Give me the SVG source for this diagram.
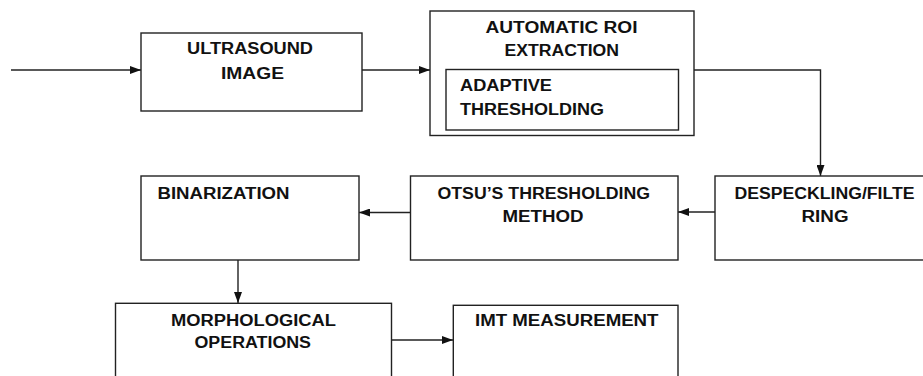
<svg xmlns="http://www.w3.org/2000/svg" width="923" height="376" viewBox="0 0 923 376">
<style>
.box{fill:#fff;stroke:#222;stroke-width:1.4}
.t{font-family:"Liberation Sans",Arial,sans-serif;font-weight:bold;font-size:16px;fill:#111}
.c{fill:none;stroke:#222;stroke-width:1.4}
</style>
<defs>
<marker id="ah" markerUnits="userSpaceOnUse" markerWidth="11" markerHeight="8" refX="11" refY="4" orient="auto">
<path d="M0,0 L11,4 L0,8 z" fill="#111"/>
</marker>
</defs>
<rect width="923" height="376" fill="#fff"/>
<g id="connectors">
<line class="c" x1="11" y1="70" x2="141" y2="70" marker-end="url(#ah)"/>
<line class="c" x1="362" y1="70" x2="430" y2="70" marker-end="url(#ah)"/>
<polyline class="c" points="694,70 820.5,70 820.5,176" marker-end="url(#ah)"/>
<line class="c" x1="715" y1="212" x2="678" y2="212" marker-end="url(#ah)"/>
<line class="c" x1="410.5" y1="212.5" x2="359" y2="212.5" marker-end="url(#ah)"/>
<line class="c" x1="238" y1="260" x2="238" y2="303" marker-end="url(#ah)"/>
<line class="c" x1="391.5" y1="340" x2="453" y2="340" marker-end="url(#ah)"/>
</g>
<g id="ultrasound">
<rect class="box" x="141" y="33" width="221" height="78"/>
<text class="t" x="187" y="54" textLength="126" lengthAdjust="spacingAndGlyphs">ULTRASOUND</text>
<text class="t" x="221" y="78.5" textLength="63" lengthAdjust="spacingAndGlyphs">IMAGE</text>
</g>
<g id="roi">
<rect class="box" x="430" y="11" width="264" height="124.5"/>
<text class="t" x="485.5" y="32.5" textLength="152" lengthAdjust="spacingAndGlyphs">AUTOMATIC ROI</text>
<text class="t" x="504.5" y="55.5" textLength="114.5" lengthAdjust="spacingAndGlyphs">EXTRACTION</text>
</g>
<g id="adaptive">
<rect class="box" x="446" y="69.5" width="232.5" height="60.5"/>
<text class="t" x="460" y="91" textLength="92" lengthAdjust="spacingAndGlyphs">ADAPTIVE</text>
<text class="t" x="460" y="115" textLength="144" lengthAdjust="spacingAndGlyphs">THRESHOLDING</text>
</g>
<g id="despeckling">
<rect class="box" x="715" y="176" width="212" height="84"/>
<text class="t" x="734.5" y="199" textLength="180" lengthAdjust="spacingAndGlyphs">DESPECKLING/FILTE</text>
<text class="t" x="801.5" y="222" textLength="47" lengthAdjust="spacingAndGlyphs">RING</text>
</g>
<g id="otsu">
<rect class="box" x="410.5" y="176" width="267.5" height="84"/>
<text class="t" x="437.5" y="199" textLength="212.5" lengthAdjust="spacingAndGlyphs">OTSU’S THRESHOLDING</text>
<text class="t" x="502.5" y="222.3" textLength="81" lengthAdjust="spacingAndGlyphs">METHOD</text>
</g>
<g id="binarization">
<rect class="box" x="141" y="176" width="218" height="84"/>
<text class="t" x="157.5" y="199.3" textLength="132" lengthAdjust="spacingAndGlyphs">BINARIZATION</text>
</g>
<g id="morphological">
<rect class="box" x="115.5" y="303.3" width="276" height="80"/>
<text class="t" x="171" y="325.7" textLength="165" lengthAdjust="spacingAndGlyphs">MORPHOLOGICAL</text>
<text class="t" x="194.5" y="348.3" textLength="116.5" lengthAdjust="spacingAndGlyphs">OPERATIONS</text>
</g>
<g id="imt">
<rect class="box" x="453.3" y="305.3" width="224.7" height="80"/>
<text class="t" x="475" y="325.7" textLength="183.5" lengthAdjust="spacingAndGlyphs">IMT MEASUREMENT</text>
</g>
</svg>
